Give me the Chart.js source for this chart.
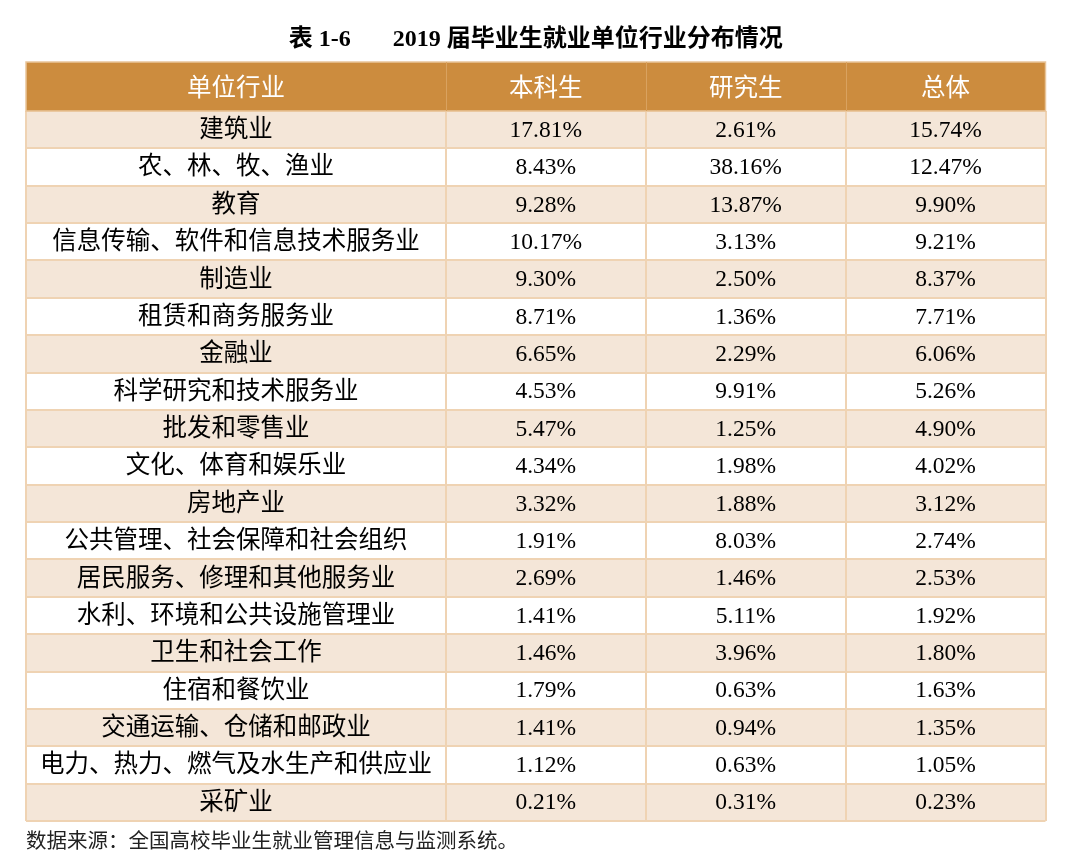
<!DOCTYPE html>
<html>
<head>
<meta charset="utf-8">
<script src="https://cdn.jsdelivr.net/npm/chart.js@4"></script>
<style>
    body { margin: 0; background: #fff; }
    canvas { display: block; }
</style>
</head>
<body>
<canvas id="tableChart" width="1080" height="855"></canvas>
<script>
const headers = ['单位行业', '本科生', '研究生', '总体'];
const industries = [
    '建筑业', '农、林、牧、渔业', '教育', '信息传输、软件和信息技术服务业', '制造业',
    '租赁和商务服务业', '金融业', '科学研究和技术服务业', '批发和零售业', '文化、体育和娱乐业',
    '房地产业', '公共管理、社会保障和社会组织', '居民服务、修理和其他服务业', '水利、环境和公共设施管理业',
    '卫生和社会工作', '住宿和餐饮业', '交通运输、仓储和邮政业', '电力、热力、燃气及水生产和供应业', '采矿业'
];
const undergrad = [17.81, 8.43, 9.28, 10.17, 9.30, 8.71, 6.65, 4.53, 5.47, 4.34, 3.32, 1.91, 2.69, 1.41, 1.46, 1.79, 1.41, 1.12, 0.21];
const graduate = [2.61, 38.16, 13.87, 3.13, 2.50, 1.36, 2.29, 9.91, 1.25, 1.98, 1.88, 8.03, 1.46, 5.11, 3.96, 0.63, 0.94, 0.63, 0.31];
const overall = [15.74, 12.47, 9.90, 9.21, 8.37, 7.71, 6.06, 5.26, 4.90, 4.02, 3.12, 2.74, 2.53, 1.92, 1.80, 1.63, 1.35, 1.05, 0.23];

// column edges on the x scale (first column is wider)
const colEdges = [0, 2.1, 3.1, 4.1, 5.1];

const HEADER_H = 49;
const BEIGE = '#F4E6D8';
const HEADER_BG = '#CC8C3E';
const LINE = '#EFD3B3';
const SERIF = '"Liberation Serif", "Times New Roman", "Noto Sans CJK SC"';
const SANS = '"Noto Sans CJK SC", "Noto Sans", sans-serif';

const tableText = {
    id: 'tableText',
    afterDraw(chart) {
        const ctx = chart.ctx;
        const x = chart.scales.x;
        const y = chart.scales.y;
        const top = chart.chartArea.top;
        const left = x.getPixelForValue(colEdges[0]);
        const right = x.getPixelForValue(colEdges[colEdges.length - 1]);

        ctx.save();
        // header band
        ctx.fillStyle = HEADER_BG;
        ctx.fillRect(left, top - HEADER_H, right - left, HEADER_H);
        ctx.strokeStyle = '#E9C59A';
        ctx.lineWidth = 1.5;
        ctx.strokeRect(left, top - HEADER_H, right - left, HEADER_H);
        ctx.strokeStyle = '#D9A25F';
        ctx.lineWidth = 1;
        colEdges.slice(1, -1).forEach(v => {
            const px = Math.round(x.getPixelForValue(v)) + 0.5;
            ctx.beginPath();
            ctx.moveTo(px, top - HEADER_H);
            ctx.lineTo(px, top);
            ctx.stroke();
        });

        ctx.textAlign = 'center';
        ctx.textBaseline = 'middle';
        ctx.fillStyle = '#fff';
        ctx.font = '24.5px ' + SANS;
        headers.forEach((h, c) => {
            const cx = x.getPixelForValue((colEdges[c] + colEdges[c + 1]) / 2);
            ctx.fillText(h, cx, top - HEADER_H / 2);
        });

        // body cells
        const columns = [industries, undergrad, graduate, overall];
        ctx.fillStyle = '#000';
        industries.forEach((name, i) => {
            const cy = y.getPixelForValue(i) + 1;
            columns.forEach((col, c) => {
                const cx = x.getPixelForValue((colEdges[c] + colEdges[c + 1]) / 2);
                if (c === 0) {
                    ctx.font = '24.5px ' + SERIF;
                    ctx.fillText(col[i], cx, cy);
                } else {
                    ctx.font = '23.5px ' + SERIF;
                    ctx.fillText(col[i].toFixed(2) + '%', cx, cy);
                }
            });
        });
        ctx.restore();
    }
};

new Chart(document.getElementById('tableChart'), {
    type: 'bar',
    data: {
        labels: industries,
        datasets: [{
            data: industries.map(() => [colEdges[0], colEdges[colEdges.length - 1]]),
            backgroundColor: ctx => ctx.dataIndex % 2 === 0 ? BEIGE : '#ffffff',
            borderWidth: 0,
            barPercentage: 1,
            categoryPercentage: 1
        }]
    },
    options: {
        indexAxis: 'y',
        responsive: false,
        animation: false,
        devicePixelRatio: 1,
        layout: { padding: { left: 26, right: 34.5, top: 0, bottom: 0 } },
        plugins: {
            legend: { display: false },
            tooltip: { enabled: false },
            title: {
                display: true,
                text: '表 1-6       2019 届毕业生就业单位行业分布情况',
                color: '#000',
                font: { family: SERIF, size: 24, weight: 'bold', lineHeight: 1.2 },
                padding: { top: 25, bottom: 57.2 }
            },
            subtitle: {
                display: true,
                position: 'bottom',
                align: 'start',
                text: '数据来源：全国高校毕业生就业管理信息与监测系统。',
                color: '#222',
                font: { family: SANS, size: 20.5, lineHeight: 1.2 },
                padding: { top: 6.6, bottom: 2.8 }
            }
        },
        scales: {
            x: {
                type: 'linear',
                min: colEdges[0],
                max: colEdges[colEdges.length - 1],
                afterBuildTicks: scale => { scale.ticks = colEdges.map(v => ({ value: v })); },
                ticks: { display: false },
                border: { display: false },
                grid: { color: LINE, lineWidth: 2, drawTicks: false, z: 1 }
            },
            y: {
                ticks: { display: false },
                border: { display: false },
                grid: { color: LINE, lineWidth: 2, drawTicks: false, offset: true, z: 1 }
            }
        }
    },
    plugins: [tableText]
});
</script>
</body>
</html>
